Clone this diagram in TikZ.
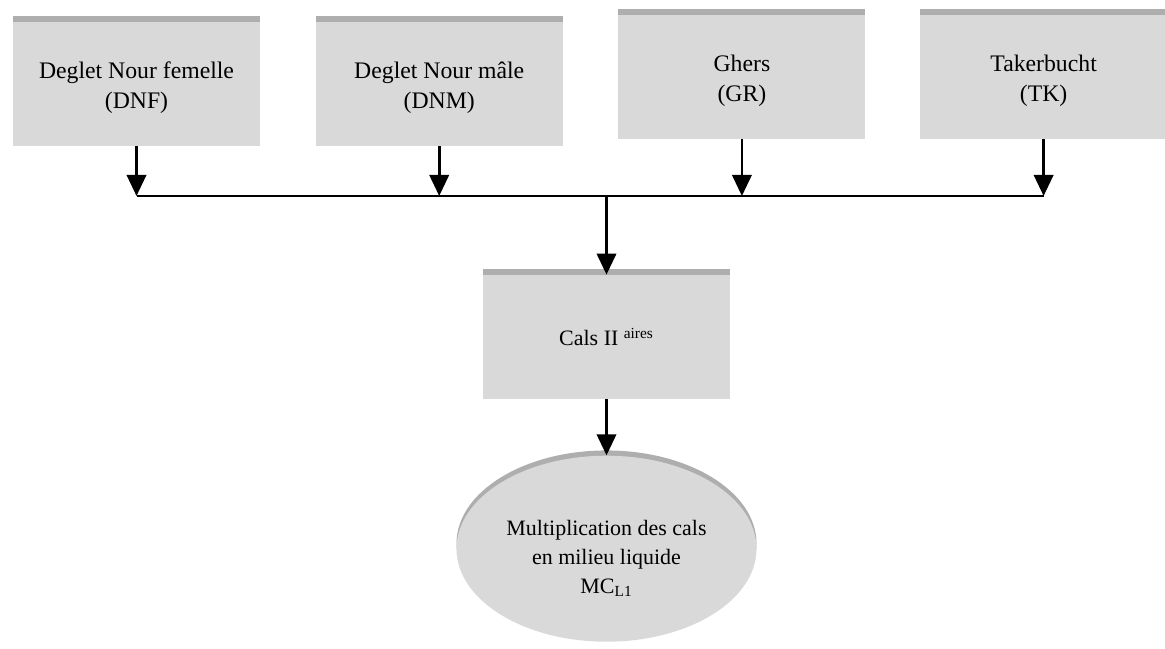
\documentclass[tikz,border=0pt]{standalone}
\usepackage{fontspec}
\setmainfont{Liberation Serif}
\usepackage{xcolor}
\usetikzlibrary{arrows.meta,positioning,shapes.geometric,shadows}
\definecolor{cultfill}{HTML}{D9D9D9}
\definecolor{cultshadow}{HTML}{8C8C8C}
% pushes the text of a node a little lower
\newcommand{\cultgap}[1]{\rule{0pt}{#1}}
\tikzset{
  cultbox/.style={
    fill=cultfill,
    align=center,
    font=\fontsize{13.5pt}{17pt}\selectfont,
    minimum width=4.94cm,
    minimum height=2.48cm,
    inner sep=4pt,
    drop shadow={shadow xshift=0pt, shadow yshift=3.5pt, fill=cultshadow, opacity=0.7}
  },
  cultoval/.style={
    ellipse,
    fill=cultfill,
    align=center,
    font=\fontsize{12.5pt}{16.5pt}\selectfont,
    minimum width=6cm,
    minimum height=3.72cm,
    inner sep=0pt,
    drop shadow={shadow xshift=0pt, shadow yshift=3pt, fill=cultshadow, opacity=0.7}
  },
  arrow/.style={
    -{Triangle[length=12pt,width=11pt]},
    line width=1.6pt,
    draw=black
  },
  busline/.style={
    line width=1.6pt,
    draw=black
  }
}
\begin{document}
\begin{tikzpicture}[node distance=11mm and 11mm]

\useasboundingbox (0,0) rectangle (23.3,-12.96);

\node[cultbox] (dnf) at (2.73,-1.68) {\cultgap{13.5pt}Deglet Nour femelle\\(DNF)};
\node[cultbox, right=11mm of dnf] (dnm) {\cultgap{13.5pt}Deglet Nour mâle\\(DNM)};
\node[cultbox, right=11mm of dnm, yshift=1.4mm] (gr) {\cultgap{14pt}Ghers\\(GR)};
\node[cultbox, right=10.8mm of gr] (tk) {\cultgap{14pt}Takerbucht\\(TK)};

\coordinate (bus) at (0,-3.92);

\node[cultbox, font=\fontsize{12.5pt}{16.5pt}\selectfont] (cals) at (12.13,-6.74) {Cals II \textsuperscript{aires}};
\node[cultoval, below=11.2mm of cals] (mcl) {\cultgap{20pt}Multiplication des cals\\en milieu liquide\\MC\textsubscript{L1}};

\draw[arrow] (dnf.south) -- (dnf.south |- bus);
\draw[arrow] (dnm.south) -- (dnm.south |- bus);
\draw[arrow] (gr.south) -- (gr.south |- bus);
\draw[arrow] (tk.south) -- (tk.south |- bus);
\draw[busline] (dnf.south |- bus) -- (tk.south |- bus);
\draw[arrow] (cals.north |- bus) -- (cals.north);
\draw[arrow] (cals.south) -- (mcl.north);

\end{tikzpicture}
\end{document}
